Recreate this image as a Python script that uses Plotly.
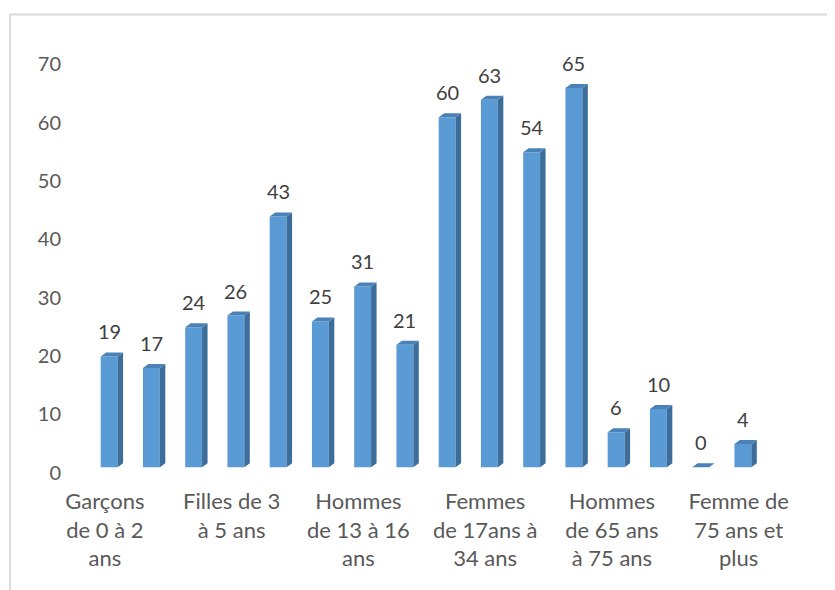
import plotly.graph_objects as go

# Data
values = [19, 17, 24, 26, 43, 25, 31, 21, 60, 63, 54, 65, 6, 10, 0, 4]
positions = list(range(len(values)))
label_positions = [0, 3, 6, 9, 12, 15]
label_texts = [
    "Garçons<br>de 0 à 2<br>ans",
    "Filles de 3<br>à 5 ans",
    "Hommes<br>de 13 à 16<br>ans",
    "Femmes<br>de 17ans à<br>34 ans",
    "Hommes<br>de 65 ans<br>à 75 ans",
    "Femme de<br>75 ans et<br>plus",
]

# Styling
FRONT = "#5B9BD5"
SIDE = "#3D6D9B"
TOP = "#4A82B8"
W = 0.40      # bar width in category units
DX = 0.13     # 3D depth (x, category units)
DY = 0.69     # 3D depth (y, value units)
FONT = "Lato"

# Build side and top faces from the data values
side_x, side_y, top_x, top_y = [], [], [], []
for p, v in zip(positions, values):
    x0, x1 = p - W / 2, p + W / 2
    if v > 0:
        side_x += [x1, x1 + DX, x1 + DX, x1, x1, None]
        side_y += [0, DY, v + DY, v, 0, None]
    top_x += [x0, x0 + DX, x1 + DX, x1, x0, None]
    top_y += [v, v + DY, v + DY, v, v, None]

fig = go.Figure()
fig.add_trace(go.Scatter(x=side_x, y=side_y, fill="toself", fillcolor=SIDE,
                         mode="lines", line=dict(width=0, color=SIDE),
                         hoverinfo="skip", showlegend=False))
fig.add_trace(go.Scatter(x=top_x, y=top_y, fill="toself", fillcolor=TOP,
                         mode="lines", line=dict(width=0, color=TOP),
                         hoverinfo="skip", showlegend=False))
fig.add_trace(go.Bar(x=positions, y=values, width=W, marker_color=FRONT,
                     marker_line_width=0, showlegend=False))

# Invisible trace on secondary axis to host tick labels
fig.add_trace(go.Scatter(x=[positions[0]], y=[0], yaxis="y2", mode="markers",
                         marker=dict(opacity=0), hoverinfo="skip", showlegend=False))

for p, v in zip(positions, values):
    fig.add_annotation(x=p, y=v, text=str(v), showarrow=False, yanchor="middle",
                       yshift=25, font=dict(family=FONT, size=20, color="#404040"))

# chart border (light gray frame, cropped on right/bottom)
fig.add_shape(type="rect", xref="paper", yref="paper",
              x0=-0.1153, x1=1.12, y0=-0.30, y1=1.099,
              line=dict(color="#D9D9D9", width=2), fillcolor="rgba(0,0,0,0)",
              layer="below")

fig.update_layout(
    width=835, height=590,
    margin=dict(l=80, r=79, t=48, b=122),
    paper_bgcolor="white", plot_bgcolor="white",
    font=dict(family=FONT, size=20, color="#595959"),
    xaxis=dict(range=[-0.5, 15.5], tickvals=[p - 0.1 for p in label_positions],
               ticktext=label_texts, showgrid=False, zeroline=False,
               showline=False, ticks="", ticklabelstandoff=10, automargin=False,
               tickfont=dict(family=FONT, size=22, color="#595959")),
    yaxis=dict(range=[-1.5, 70.5], showticklabels=False, showgrid=False,
               zeroline=False, showline=False, ticks="", automargin=False),
    yaxis2=dict(range=[-1.5 + 0.94, 70.5 + 0.94], overlaying="y", side="left",
                tickvals=[0, 10, 20, 30, 40, 50, 60, 70], showgrid=False,
                zeroline=False, showline=False, ticks="", ticklabelstandoff=26,
                automargin=False,
                tickfont=dict(family=FONT, size=20, color="#595959")),
    bargap=0.6,
)

fig.write_html("out.html")
